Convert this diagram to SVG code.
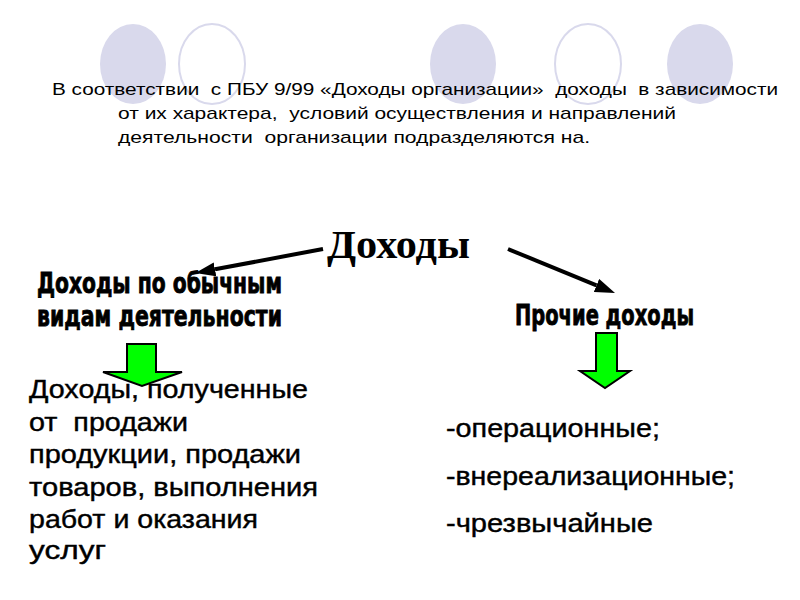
<svg xmlns="http://www.w3.org/2000/svg" width="800" height="600" viewBox="0 0 800 600">
<style>
.bg{fill:#ffffff}
.cf{fill:#d9d9ec;stroke:none}
.co{fill:none;stroke:#d9d9ec;stroke-width:2}
text{white-space:pre}
.hdr{font-family:"Liberation Sans",Arial,sans-serif;font-size:17px;fill:#000}
.title{font-family:"Liberation Serif","Times New Roman",serif;font-weight:bold;font-size:40px;fill:#000}
.imp{font-family:"DejaVu Sans Condensed","Liberation Sans",sans-serif;font-weight:bold;font-size:29px;fill:#000;stroke:#000;stroke-width:0.8}
.body{font-family:"Liberation Sans",Arial,sans-serif;font-size:25px;fill:#000;stroke:#000;stroke-width:0.4}
.conn{stroke:#000;stroke-width:4;fill:none}
.green{fill:#00ff00;stroke:#000;stroke-width:2;stroke-linejoin:miter}
</style>
<defs>
<marker id="ah" markerWidth="20" markerHeight="14" refX="0" refY="7" orient="auto" markerUnits="userSpaceOnUse">
<path d="M0,0 L20,7 L0,14 Z" fill="#000"/>
</marker>
</defs>
<rect class="bg" x="0" y="0" width="800" height="600"/>
<g id="decor">
<ellipse class="cf" cx="133" cy="64" rx="33" ry="40"/>
<ellipse class="co" cx="212" cy="64" rx="33" ry="40"/>
<ellipse class="cf" cx="463" cy="64" rx="33" ry="40"/>
<ellipse class="co" cx="588" cy="64" rx="33" ry="40"/>
<ellipse class="cf" cx="700" cy="64" rx="33" ry="40"/>
</g>
<g id="header">
<text class="hdr" x="52" y="95" textLength="726" lengthAdjust="spacingAndGlyphs">В соответствии  с ПБУ 9/99 «Доходы организации»  доходы  в зависимости</text>
<text class="hdr" x="118" y="119" textLength="558" lengthAdjust="spacingAndGlyphs">от их характера,  условий осуществления и направлений</text>
<text class="hdr" x="118" y="143" textLength="472" lengthAdjust="spacingAndGlyphs">деятельности  организации подразделяются на.</text>
</g>
<g id="connectors">
<line class="conn" x1="323" y1="249" x2="215" y2="269.3" marker-end="url(#ah)"/>
<line class="conn" x1="508" y1="249" x2="596.5" y2="285.4" marker-end="url(#ah)"/>
<path class="green" d="M127,344 L156,344 L156,372 L182,372 L142,386 L103,372 L127,372 Z"/>
<path class="green" d="M596,333 L617,333 L617,371 L630,371 L605,388 L580,371 L596,371 Z"/>
</g>
<g id="node-root">
<text class="title" x="327" y="258" textLength="143" lengthAdjust="spacingAndGlyphs">Доходы</text>
</g>
<g id="node-ordinary">
<text class="imp" x="37" y="293" textLength="245" lengthAdjust="spacingAndGlyphs">Доходы по обычным</text>
<text class="imp" x="37" y="326" textLength="245" lengthAdjust="spacingAndGlyphs">видам деятельности</text>
</g>
<g id="node-other">
<text class="imp" x="515" y="325" textLength="179" lengthAdjust="spacingAndGlyphs">Прочие доходы</text>
</g>
<g id="node-ordinary-detail">
<text class="body" x="29" y="398" textLength="279" lengthAdjust="spacingAndGlyphs">Доходы, полученные</text>
<text class="body" x="29" y="431" textLength="159" lengthAdjust="spacingAndGlyphs">от  продажи</text>
<text class="body" x="29" y="463" textLength="272" lengthAdjust="spacingAndGlyphs">продукции, продажи</text>
<text class="body" x="29" y="496" textLength="289" lengthAdjust="spacingAndGlyphs">товаров, выполнения</text>
<text class="body" x="29" y="528" textLength="229" lengthAdjust="spacingAndGlyphs">работ и оказания</text>
<text class="body" x="29" y="559" textLength="77" lengthAdjust="spacingAndGlyphs">услуг</text>
</g>
<g id="node-other-detail">
<text class="body" x="446" y="437" textLength="214" lengthAdjust="spacingAndGlyphs">-операционные;</text>
<text class="body" x="446" y="485" textLength="289" lengthAdjust="spacingAndGlyphs">-внереализационные;</text>
<text class="body" x="446" y="532" textLength="207" lengthAdjust="spacingAndGlyphs">-чрезвычайные</text>
</g>
</svg>
